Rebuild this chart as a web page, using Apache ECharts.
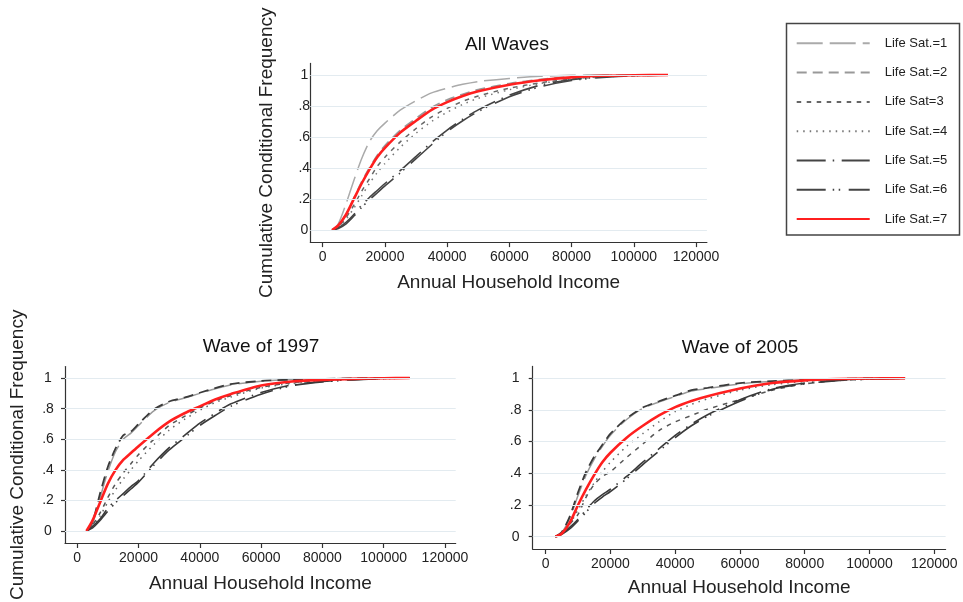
<!DOCTYPE html>
<html><head><meta charset="utf-8">
<script src="https://cdn.jsdelivr.net/npm/echarts@6/dist/echarts.min.js"></script>
<style>html,body{margin:0;padding:0;background:#fff}#c{width:963px;height:602px}</style>
</head><body><div id="c"></div>
<script>
// ---- data ----
const seriesNames = ['Life Sat.=1','Life Sat.=2','Life Sat=3','Life Sat.=4','Life Sat.=5','Life Sat.=6','Life Sat.=7'];
const panelTitles = ['All Waves','Wave of 1997','Wave of 2005'];
const xTickValues = [0,20000,40000,60000,80000,100000,120000];
const yTickValues = [0,0.2,0.4,0.6,0.8,1];

const incomesAll  = [3000,5000,7500,10000,12500,15000,17500,20000,25000,30000,35000,40000,45000,50000,60000,70000,80000,90000,100000,111000];
const incomes1997 = [3000,5000,7500,10000,12500,15000,17500,20000,25000,30000,35000,40000,45000,50000,60000,70000,80000,90000,100000,108500];
const incomes2005 = [3000,5000,7500,10000,12500,15000,17500,20000,25000,30000,35000,40000,45000,50000,60000,70000,80000,90000,100000,111000];

const all_sat1 = [0,.04,.17,.32,.46,.57,.64,.69,.775,.835,.885,.915,.94,.958,.978,.992,.998,1,1,1];
const all_sat2 = [0,.03,.10,.205,.31,.40,.48,.545,.645,.72,.79,.84,.875,.905,.945,.972,.988,.996,.999,1];
const all_sat3 = [0,.02,.08,.16,.25,.33,.41,.47,.57,.655,.73,.785,.83,.865,.915,.95,.975,.99,.997,1];
const all_sat4 = [0,.02,.07,.14,.22,.30,.37,.43,.535,.625,.70,.76,.81,.85,.905,.945,.972,.988,.996,1];
const all_sat5 = [0,.015,.05,.10,.16,.21,.255,.30,.385,.475,.565,.645,.715,.775,.87,.935,.97,.988,.996,1];
const all_sat6 = [0,.01,.04,.09,.145,.195,.24,.285,.37,.46,.55,.635,.705,.765,.86,.925,.965,.985,.995,1];
const all_sat7 = [0,.03,.10,.20,.30,.39,.47,.53,.63,.705,.775,.825,.865,.895,.937,.966,.985,.995,.999,1];

const w97_sat1 = [0,.05,.22,.39,.52,.60,.64,.69,.785,.84,.87,.90,.93,.955,.98,.99,.995,.998,1,1];
const w97_sat2 = [0,.06,.25,.42,.54,.625,.65,.70,.795,.847,.873,.904,.934,.96,.982,.99,.995,.998,1,1];
const w97_sat3 = [0,.04,.12,.22,.31,.38,.44,.50,.60,.69,.75,.805,.85,.885,.94,.97,.985,.993,.998,1];
const w97_sat4 = [0,.03,.10,.19,.27,.34,.40,.46,.565,.66,.73,.79,.84,.875,.935,.965,.982,.992,.998,1];
const w97_sat5 = [0,.03,.08,.15,.20,.245,.29,.33,.445,.545,.625,.705,.77,.83,.905,.955,.978,.99,.997,1];
const w97_sat6 = [0,.02,.07,.13,.185,.23,.275,.32,.43,.53,.61,.69,.755,.815,.895,.95,.975,.988,.996,1];
const w97_sat7 = [0,.07,.19,.31,.40,.465,.51,.555,.64,.715,.77,.815,.86,.895,.952,.978,.988,.995,.999,1];

const w05_sat1 = [0,.025,.12,.26,.39,.49,.57,.64,.74,.81,.85,.885,.92,.935,.965,.98,.99,.995,.999,1];
const w05_sat2 = [0,.03,.13,.28,.41,.505,.58,.65,.747,.815,.855,.89,.925,.94,.97,.982,.99,.996,.999,1];
const w05_sat3 = [0,.02,.08,.14,.25,.33,.38,.41,.50,.585,.67,.725,.765,.805,.865,.925,.965,.985,.995,1];
const w05_sat4 = [0,.02,.08,.17,.26,.34,.41,.47,.57,.65,.725,.79,.835,.87,.925,.96,.98,.992,.998,1];
const w05_sat5 = [0,.02,.06,.11,.17,.225,.265,.30,.38,.47,.555,.64,.71,.77,.865,.935,.97,.988,.997,1];
const w05_sat6 = [0,.015,.05,.10,.155,.21,.25,.285,.365,.455,.54,.625,.70,.76,.855,.93,.965,.985,.995,1];
const w05_sat7 = [0,.02,.09,.20,.30,.39,.47,.53,.625,.70,.765,.818,.857,.887,.935,.97,.987,.995,.999,1];

const panels = [
  {incomes: incomesAll,  values: [all_sat1,all_sat2,all_sat3,all_sat4,all_sat5,all_sat6,all_sat7]},
  {incomes: incomes1997, values: [w97_sat1,w97_sat2,w97_sat3,w97_sat4,w97_sat5,w97_sat6,w97_sat7]},
  {incomes: incomes2005, values: [w05_sat1,w05_sat2,w05_sat3,w05_sat4,w05_sat5,w05_sat6,w05_sat7]}
];

// ---- styles / layout ----
const FONT = '"Liberation Sans", Arial, Helvetica, sans-serif';
const TXT = '#222';
const dashes = [[26,7],[10,6],[4.5,5.5],[1.5,5],[29,7,1.5,7.5],[29,7,1.5,4.5,1.5,8.5],'solid'];
const colorsTop = ['#aaaaaa','#999999','#666666','#777777','#444444','#444444','#ff1f1f'];
const colorsWave = ['#9a9a9a','#3a3a3a','#555555','#666666','#3a3a3a','#3a3a3a','#ff1f1f'];
const widths = [1.5,1.8,1.5,1.5,1.6,1.6,2.6];
const grids = [
  {left:310.3, top:63.4, width:396.6, height:178.7},
  {left:65, top:366.6, width:390.7, height:179.5},
  {left:532.7, top:366.4, width:412.9, height:182.6}
];
const yLabelMargin = [6,17,17];
const yTickShow = [false,true,true];
const yNames = ['Cumulative Conditional Frequency','Cumulative Conditional Frequency',''];
const yNameGap = [34,38,0];
const xNameGap = [31,31,29];
const titlePos = [[507,35.5],[261,337],[740,338]];

const fmtY = v => v === 0 ? '0' : (v === 1 ? '1' : '.' + Math.round(v*10));
const fmtX = v => String(Math.round(v));
const axisLineStyle = {color:'#333', width:1.2};

const option = {
  animation:false,
  backgroundColor:'#fff',
  textStyle:{fontFamily:FONT},
  grid: grids.map(g => Object.assign({containLabel:false}, g)),
  title: panelTitles.map((t,i) => ({
    text:t, left:titlePos[i][0], top:titlePos[i][1], textAlign:'center', padding:0,
    textStyle:{fontSize:19, fontWeight:'normal', color:'#111', fontFamily:FONT}
  })),
  xAxis: grids.map((g,i) => ({
    type:'value', gridIndex:i, min:-4000, max:123500,
    axisLine:{show:true, onZero:false, lineStyle:axisLineStyle},
    axisTick:{show:true, length:5, customValues:xTickValues, lineStyle:axisLineStyle},
    axisLabel:{customValues:xTickValues, formatter:fmtX, fontSize:14, color:TXT, margin:8, fontFamily:FONT},
    splitLine:{show:false},
    name:'Annual Household Income', nameLocation:'middle', nameGap:xNameGap[i],
    nameTextStyle:{fontSize:19, color:TXT, fontFamily:FONT}
  })),
  yAxis: grids.map((g,i) => ({
    type:'value', gridIndex:i, min:-0.078, max:1.075,
    axisLine:{show:true, onZero:false, lineStyle:axisLineStyle},
    axisTick:{show:yTickShow[i], length:4, customValues:yTickValues, lineStyle:axisLineStyle},
    axisLabel:{customValues:yTickValues, formatter:fmtY, align:'center', fontSize:14, color:TXT, margin:yLabelMargin[i], fontFamily:FONT},
    splitLine:{show:false},
    name:yNames[i], nameLocation:'middle', nameGap:yNameGap[i], nameRotate:90,
    nameTextStyle:{fontSize:19, color:TXT, fontFamily:FONT}
  })),
  legend:{
    orient:'vertical', left:795.7, top:36.3, padding:0,
    itemWidth:73, itemHeight:14, itemGap:15.3, selectedMode:false,
    data:seriesNames,
    itemStyle:{opacity:0, borderWidth:0},
    textStyle:{fontSize:13, color:TXT, fontFamily:FONT, padding:[0,0,0,10], lineHeight:14}
  },
  graphic:[{type:'rect', silent:true, shape:{x:786.5, y:23.5, width:173, height:211.5},
            style:{fill:'none', stroke:'#444', lineWidth:1.5}}],
  series:[]
};

panels.forEach((p,pi) => {
  option.series.push({
    type:'line', name:'grid'+pi, xAxisIndex:pi, yAxisIndex:pi, data:[], silent:true, z:1,
    markLine:{silent:true, symbol:['none','none'], label:{show:false},
      lineStyle:{color:'#e3ebf0', width:1.2, type:'solid'},
      data: yTickValues.map(v => ({yAxis:v}))}
  });
});
panels.forEach((p,pi) => {
  const cols = pi === 0 ? colorsTop : colorsWave;
  p.values.forEach((vals,si) => {
    option.series.push({
      type:'line', name:seriesNames[si], xAxisIndex:pi, yAxisIndex:pi,
      data: p.incomes.map((x,k) => [x, vals[k]]),
      showSymbol:false, symbol:'none', smooth:0.25, z: si === 6 ? 4 : 3,
      lineStyle:{color:cols[si], type:dashes[si], width:widths[si]},
      itemStyle:{color:cols[si]}
    });
  });
});

const chart = echarts.init(document.getElementById('c'), null, {renderer:'canvas'});
chart.setOption(option);
</script></body></html>
